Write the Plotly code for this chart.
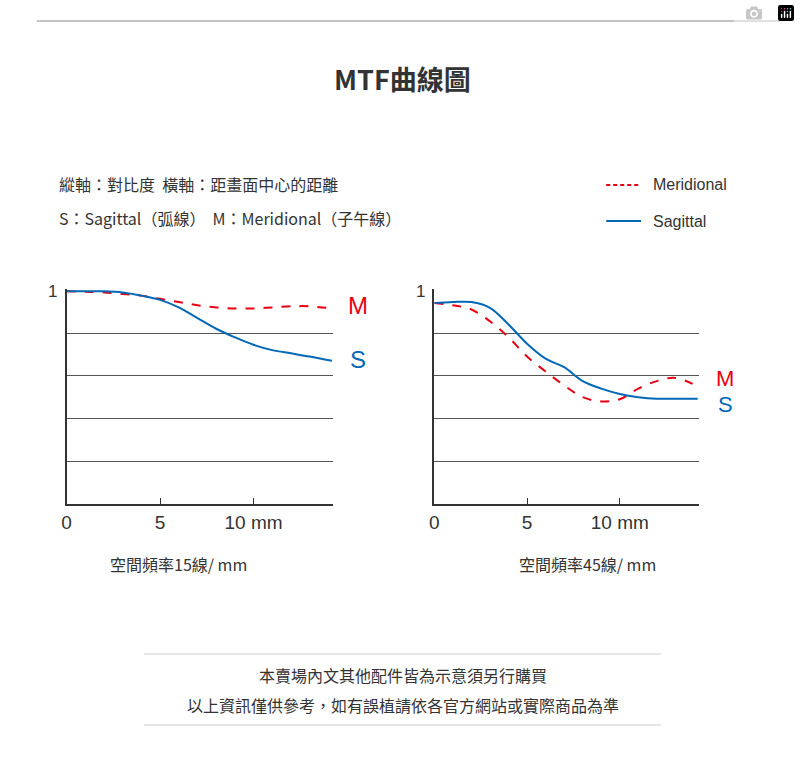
import plotly.graph_objects as go

x_pts = [0, 1, 2, 3, 4, 5, 6, 7, 8, 9, 10, 11, 12, 13, 14.2]
left_s = [0.995, 0.995, 0.995, 0.99, 0.975, 0.955, 0.92, 0.87, 0.82, 0.78, 0.745, 0.72, 0.705, 0.69, 0.67]
left_m = [0.995, 0.993, 0.99, 0.983, 0.975, 0.96, 0.945, 0.93, 0.92, 0.915, 0.915, 0.92, 0.925, 0.925, 0.915]
right_s = [0.94, 0.945, 0.945, 0.918, 0.84, 0.75, 0.68, 0.64, 0.575, 0.54, 0.515, 0.5, 0.493, 0.493, 0.493]
right_m = [0.94, 0.93, 0.91, 0.855, 0.78, 0.69, 0.62, 0.555, 0.5, 0.48, 0.49, 0.54, 0.575, 0.59, 0.55]
grid_vals = [0.2, 0.4, 0.6, 0.8]
x_ticks = [0, 5, 10]
x_ticktext = ["0", "5", "10 mm"]

RED = "#e60012"
BLUE = "#0068b7"
FONT = "Noto Sans CJK TC"

fig = go.Figure()
for xa, ya, s, m in [("x", "y", left_s, left_m), ("x2", "y2", right_s, right_m)]:
    fig.add_trace(go.Scatter(x=x_pts, y=m, mode="lines", line=dict(color=RED, width=2, dash="dash", shape="spline"),
                             xaxis=xa, yaxis=ya, showlegend=False, hoverinfo="skip"))
    fig.add_trace(go.Scatter(x=x_pts, y=s, mode="lines", line=dict(color=BLUE, width=2, shape="spline"),
                             xaxis=xa, yaxis=ya, showlegend=False, hoverinfo="skip"))

ydom = [(768 - 504) / 768, (768 - 289) / 768]
xcommon = dict(range=[0, 14.25], showgrid=False, zeroline=False, showline=True, linecolor="#333", linewidth=1.5,
               tickvals=x_ticks, ticktext=x_ticktext, ticks="inside", ticklen=6, tickcolor="#333",
               tickfont=dict(family="Liberation Sans", size=19, color="#333"), fixedrange=True)
ycommon = dict(range=[0, 1.006], showgrid=True, gridcolor="#555", gridwidth=1, tickvals=grid_vals,
               showticklabels=False, zeroline=False, showline=True, linecolor="#333", linewidth=1.5, fixedrange=True)
fig.update_layout(
    width=800, height=768, margin=dict(l=0, r=0, t=0, b=0),
    paper_bgcolor="white", plot_bgcolor="white",
    xaxis=dict(domain=[62 / 800, 330 / 800], anchor="y", **xcommon),
    yaxis=dict(domain=ydom, anchor="x", **ycommon),
    xaxis2=dict(domain=[432 / 800, 698 / 800], anchor="y2", **xcommon),
    yaxis2=dict(domain=ydom, anchor="x2", **ycommon),
)

def txt(x, y, t, size=16, color="#333", anchor="left", family=FONT):
    fig.add_annotation(x=x / 800, y=1 - y / 768, xref="paper", yref="paper", text=t, showarrow=False,
                       xanchor=anchor, yanchor="middle", font=dict(size=size, color=color, family=family))

txt(400, 78, "<b>MTF曲線圖</b>", 27, "#333", "center")
txt(52, 184, "縱軸：對比度  橫軸：距畫面中心的距離", 16)
txt(52, 218, "S：Sagittal（弧線）  M：Meridional（子午線）", 16)
txt(650, 185, "Meridional", 16, "#333", "left", "Liberation Sans")
txt(650, 221, "Sagittal", 16, "#333", "left", "Liberation Sans")
txt(48, 292, "1", 17, "#333", "center", "Liberation Sans")
txt(418, 292, "1", 17, "#333", "center", "Liberation Sans")
txt(355, 305, "M", 24, RED, "center", "Liberation Sans")
txt(355, 359, "S", 24, BLUE, "center", "Liberation Sans")
txt(725, 379, "M", 22, RED, "center", "Liberation Sans")
txt(725, 404, "S", 22, BLUE, "center", "Liberation Sans")
txt(175, 564, "空間頻率15線/ mm", 16, "#333", "center")
txt(586, 564, "空間頻率45線/ mm", 16, "#333", "center")
txt(400, 675, "本賣場內文其他配件皆為示意須另行購買", 16, "#333", "center")
txt(400, 705, "以上資訊僅供參考，如有誤植請依各官方網站或實際商品為準", 16, "#333", "center")

def line(x0, y0, x1, y1, color, width=1, dash="solid"):
    fig.add_shape(type="line", xref="paper", yref="paper", x0=x0 / 800, x1=x1 / 800,
                  y0=1 - y0 / 768, y1=1 - y1 / 768, line=dict(color=color, width=width, dash=dash))

line(32, 21, 780, 21, "#888", 1)
line(605, 185, 640, 185, RED, 2, "4px,3px")
line(605, 221, 640, 221, BLUE, 2)
line(140, 654, 660, 654, "#ccc", 1)
line(140, 725, 660, 725, "#ccc", 1)

fig.write_html("out.html")
with open("out.html", encoding="utf-8") as f:
    html = f.read()
html = html.replace("<head>", "<head><style>html,body{margin:0;padding:0;overflow:hidden;}</style>", 1)
with open("out.html", "w", encoding="utf-8") as f:
    f.write(html)
